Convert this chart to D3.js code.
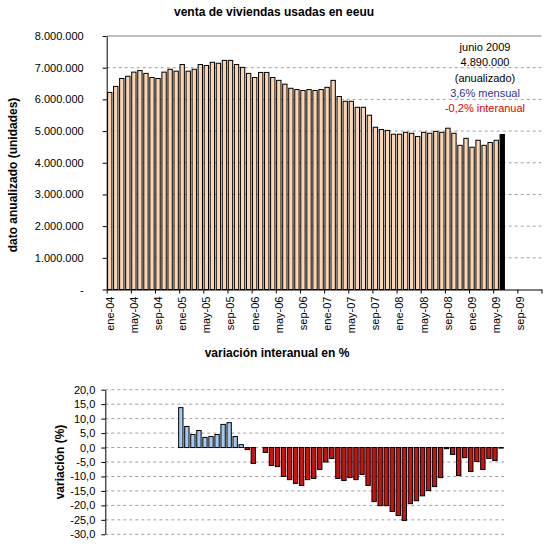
<!DOCTYPE html>
<html>
<head>
<meta charset="utf-8">
<script src="https://cdn.jsdelivr.net/npm/d3@7"></script>
<style>
  body { margin: 0; background: #fff; }
  svg text { font-family: "Liberation Sans", Arial, sans-serif; }
</style>
</head>
<body>
<div id="chart"></div>
<script>
// meses ene-04 .. dic-09 (eje superior)
var categories = [
  "ene-04","feb-04","mar-04","abr-04","may-04","jun-04","jul-04","ago-04","sep-04","oct-04","nov-04","dic-04",
  "ene-05","feb-05","mar-05","abr-05","may-05","jun-05","jul-05","ago-05","sep-05","oct-05","nov-05","dic-05",
  "ene-06","feb-06","mar-06","abr-06","may-06","jun-06","jul-06","ago-06","sep-06","oct-06","nov-06","dic-06",
  "ene-07","feb-07","mar-07","abr-07","may-07","jun-07","jul-07","ago-07","sep-07","oct-07","nov-07","dic-07",
  "ene-08","feb-08","mar-08","abr-08","may-08","jun-08","jul-08","ago-08","sep-08","oct-08","nov-08","dic-08",
  "ene-09","feb-09","mar-09","abr-09","may-09","jun-09","jul-09","ago-09","sep-09","oct-09","nov-09","dic-09"
];
var tickLabels = ["ene-04","may-04","sep-04","ene-05","may-05","sep-05","ene-06","may-06","sep-06",
  "ene-07","may-07","sep-07","ene-08","may-08","sep-08","ene-09","may-09","sep-09"];

// ventas anualizadas (unidades), ene-04 .. jun-09
var sales = [
  6220000, 6410000, 6660000, 6730000, 6860000, 6910000, 6820000, 6690000, 6660000, 6860000, 6950000, 6890000,
  7100000, 6890000, 6950000, 7100000, 7070000, 7170000, 7140000, 7230000, 7230000, 7100000, 7010000, 6820000,
  6690000, 6850000, 6850000, 6690000, 6600000, 6480000, 6350000, 6310000, 6280000, 6310000, 6280000, 6310000,
  6380000, 6600000, 6090000, 5940000, 5940000, 5750000, 5750000, 5500000, 5120000, 5050000, 5020000, 4900000,
  4900000, 4960000, 4930000, 4830000, 4960000, 4930000, 4990000, 4960000, 5090000, 4930000, 4550000, 4770000,
  4490000, 4710000, 4550000, 4640000, 4710000, 4890000
];

// variacion interanual (%), ene-04 .. jun-09
var yoy = [
  null, null, null, null, null, null, null, null, null, null, null, null,
  13.8, 7.3, 4.5, 5.9, 3.5, 3.8, 4.5, 8.0, 8.6, 3.8, 1.0, -0.7,
  -5.5, null, -1.7, -6.2, -6.6, -10.0, -11.1, -12.4, -13.1, -11.1, -10.7, -7.6,
  -5.0, -3.8, -10.7, -11.4, -10.4, -11.1, -9.3, -13.1, -18.7, -20.1, -20.1, -22.1,
  -23.5, -25.2, -19.4, -18.4, -16.7, -14.9, -13.5, -10.4, -0.4, -2.4, -9.7, -3.5,
  -8.3, -4.8, -7.6, -3.8, -4.5, -0.2
];

var noteLines = ["junio 2009", "4.890.000", "(anualizado)", "3,6% mensual", "-0,2% interanual"];
var noteColors = ["#000", "#000", "#000", "#333399", "#dd0000"];

var es = d3.formatLocale({decimal: ",", thousands: ".", grouping: [3], currency: ["", ""], minus: "-"});
var fmtUnits = es.format(",.0f");
var fmtPct = es.format(",.1f");

var svg = d3.select("#chart").append("svg")
    .attr("width", 545)
    .attr("height", 544);

// ---------- grafico superior ----------
var upper = {left: 106.7, right: 541.5, top: 36, bottom: 289.5};

var x = d3.scaleBand()
    .domain(categories)
    .range([upper.left, upper.right])
    .paddingInner(0.28)
    .paddingOuter(0.14);

var xIdx = d3.scaleLinear()
    .domain([0, categories.length])
    .range([upper.left, upper.right]);

var y = d3.scaleLinear()
    .domain([0, 8000000])
    .range([upper.bottom, upper.top]);

svg.append("text")
    .attr("x", 274)
    .attr("y", 16)
    .attr("text-anchor", "middle")
    .style("font-size", "12px")
    .style("font-weight", "bold")
    .text("venta de viviendas usadas en eeuu");

svg.append("g")
    .selectAll("line")
    .data(d3.range(1000000, 8000000, 1000000))
    .enter()
    .append("line")
    .attr("x1", upper.left)
    .attr("x2", upper.right)
    .attr("y1", d => y(d))
    .attr("y2", d => y(d))
    .attr("stroke", "#a0a0a0")
    .attr("stroke-dasharray", "3,3");

svg.append("line")
    .attr("x1", upper.left)
    .attr("x2", upper.right)
    .attr("y1", y(8000000))
    .attr("y2", y(8000000))
    .attr("stroke", "#808080");

svg.append("g")
    .selectAll("rect")
    .data(sales)
    .enter()
    .append("rect")
    .attr("x", (d, i) => x(categories[i]))
    .attr("y", d => y(d))
    .attr("width", x.bandwidth())
    .attr("height", d => y(0) - y(d))
    .attr("fill", (d, i) => i === sales.length - 1 ? "#000" : "#fbd5b2")
    .attr("stroke", "#000")
    .attr("stroke-width", 1);

var yAxis = svg.append("g")
    .attr("transform", `translate(${upper.left},0)`)
    .call(d3.axisLeft(y)
        .tickValues(d3.range(0, 8000001, 1000000))
        .tickSize(4)
        .tickSizeOuter(0)
        .tickPadding(19)
        .tickFormat(d => d === 0 ? "-" : fmtUnits(d)));
yAxis.select(".domain").attr("stroke", "#000");
yAxis.selectAll("text").style("font-size", "11px").style("font-family", "Liberation Sans, Arial, sans-serif");

var xTicks = svg.append("g")
    .attr("transform", `translate(0,${upper.bottom})`)
    .call(d3.axisBottom(xIdx)
        .tickValues(d3.range(0, categories.length + 1, 4))
        .tickSize(4)
        .tickSizeOuter(0)
        .tickFormat(""));
xTicks.select(".domain").attr("stroke", "#000");

var xLabels = svg.append("g")
    .attr("transform", `translate(0,${upper.bottom})`)
    .call(d3.axisBottom(x).tickValues(tickLabels).tickSize(0));
xLabels.select(".domain").remove();
xLabels.selectAll("text")
    .style("font-size", "11px")
    .style("font-family", "Liberation Sans, Arial, sans-serif")
    .attr("text-anchor", "end")
    .attr("transform", "rotate(-90)")
    .attr("x", -7)
    .attr("y", 0)
    .attr("dy", "0.35em");

svg.append("text")
    .attr("transform", "translate(17,175) rotate(-90)")
    .attr("text-anchor", "middle")
    .style("font-size", "12px")
    .style("font-weight", "bold")
    .text("dato anualizado (unidades)");

svg.append("g")
    .selectAll("text")
    .data(noteLines)
    .enter()
    .append("text")
    .attr("x", 485)
    .attr("y", (d, i) => 51 + i * 15.3)
    .attr("text-anchor", "middle")
    .attr("fill", (d, i) => noteColors[i])
    .style("font-size", "11px")
    .text(d => d);

// ---------- grafico inferior ----------
var lower = {left: 105.3, right: 504, top: 389.7, bottom: 534.3};

var x2 = d3.scaleBand()
    .domain(categories.slice(0, yoy.length))
    .range([lower.left, lower.right])
    .paddingInner(0.28)
    .paddingOuter(0.14);

var y2 = d3.scaleLinear()
    .domain([-30, 20])
    .range([lower.bottom, lower.top]);

svg.append("text")
    .attr("x", 277)
    .attr("y", 357)
    .attr("text-anchor", "middle")
    .style("font-size", "12px")
    .style("font-weight", "bold")
    .text("variación interanual en %");

svg.append("g")
    .selectAll("line")
    .data(d3.range(-30, 21, 5))
    .enter()
    .append("line")
    .attr("x1", lower.left)
    .attr("x2", lower.right)
    .attr("y1", d => y2(d))
    .attr("y2", d => y2(d))
    .attr("stroke", "#a0a0a0")
    .attr("stroke-dasharray", "3,3");

svg.append("g")
    .selectAll("rect")
    .data(yoy.map((v, i) => ({v: v, c: categories[i]})).filter(d => d.v !== null))
    .enter()
    .append("rect")
    .attr("x", d => x2(d.c))
    .attr("y", d => y2(Math.max(0, d.v)))
    .attr("width", x2.bandwidth())
    .attr("height", d => Math.abs(y2(d.v) - y2(0)))
    .attr("fill", d => d.v >= 0 ? "#a6c8ee" : "#cc1111")
    .attr("stroke", "#000")
    .attr("stroke-width", 1);

var yAxis2 = svg.append("g")
    .attr("transform", `translate(${lower.left},0)`)
    .call(d3.axisLeft(y2)
        .tickValues(d3.range(-30, 21, 5))
        .tickSize(4)
        .tickSizeOuter(0)
        .tickPadding(6)
        .tickFormat(fmtPct));
yAxis2.select(".domain").attr("stroke", "#000");
yAxis2.selectAll("text").style("font-size", "11px").style("font-family", "Liberation Sans, Arial, sans-serif");

svg.append("text")
    .attr("transform", "translate(64,462) rotate(-90)")
    .attr("text-anchor", "middle")
    .style("font-size", "12px")
    .style("font-weight", "bold")
    .text("variación (%)");
</script>
</body>
</html>
